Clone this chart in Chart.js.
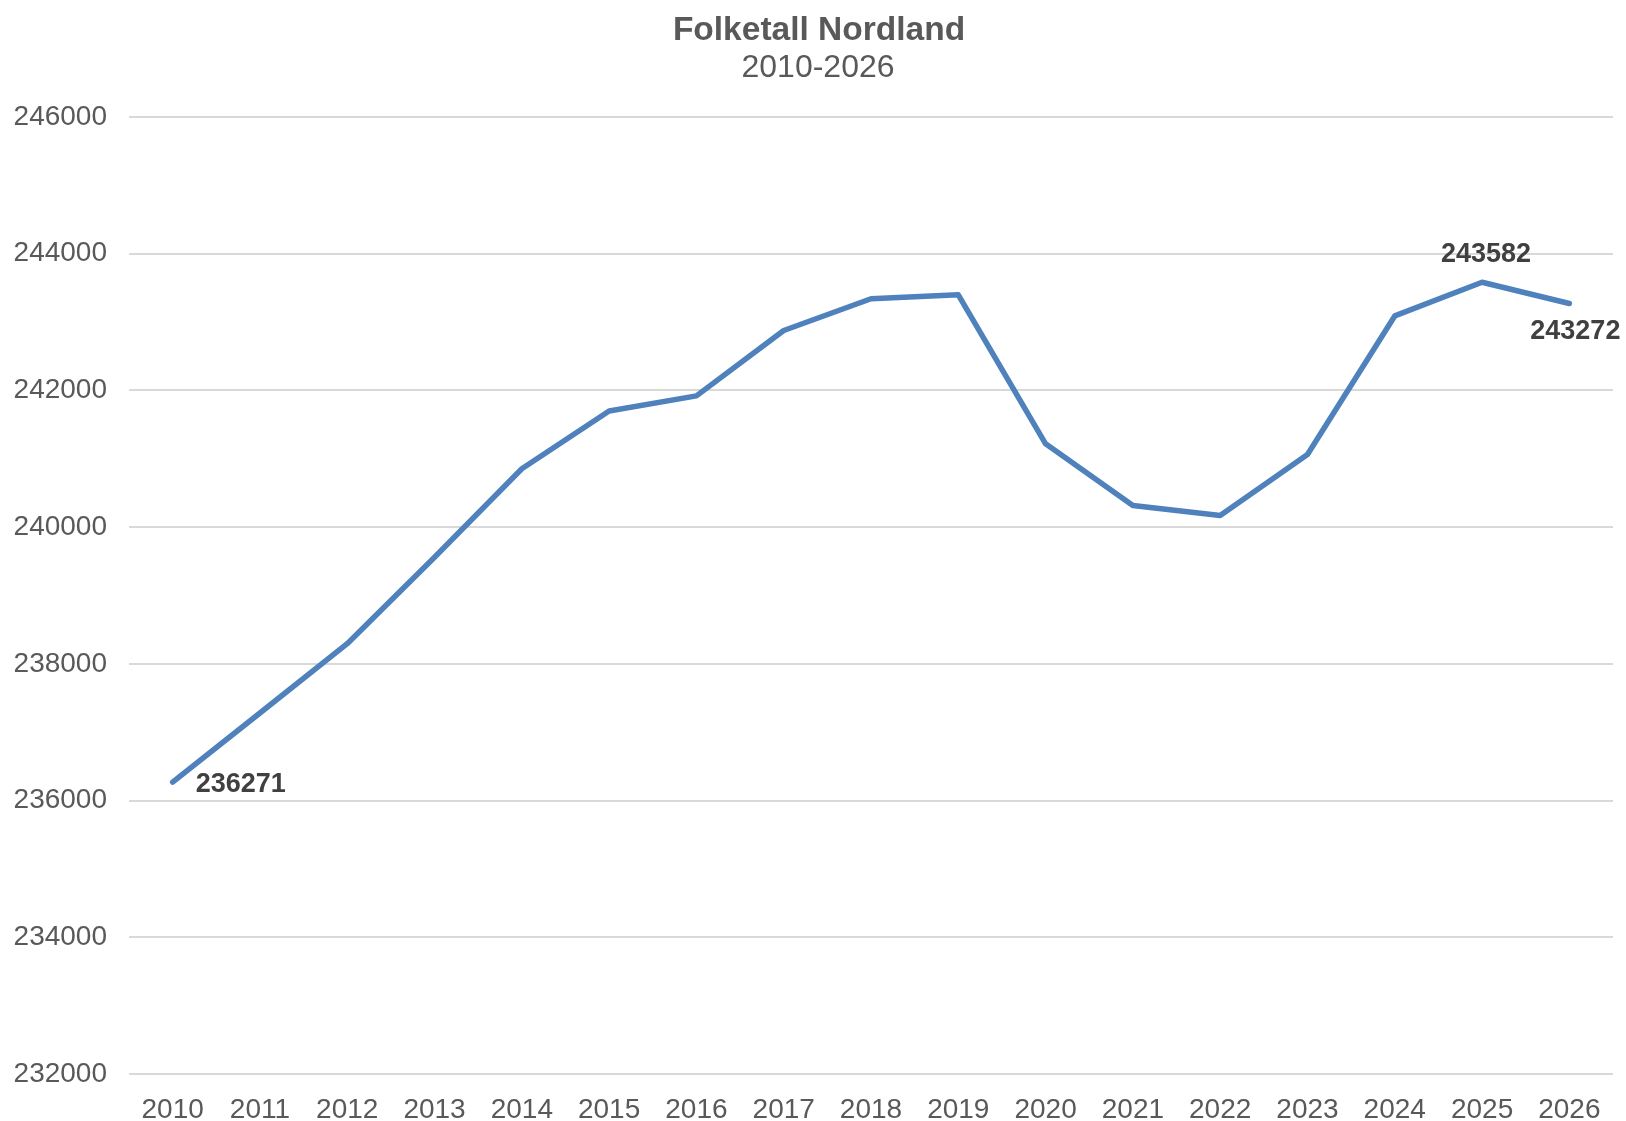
<!DOCTYPE html>
<html>
<head>
<meta charset="utf-8">
<title>Folketall Nordland</title>
<script src="https://cdn.jsdelivr.net/npm/chart.js@4"></script>
<style>
  html, body { margin: 0; padding: 0; background: #fff; }
  #chart { display: block; }
</style>
</head>
<body>
<canvas id="chart" width="1626" height="1121"></canvas>
<script>
// Data
const aar = ['2010', '2011', '2012', '2013', '2014', '2015', '2016', '2017', '2018',
  '2019', '2020', '2021', '2022', '2023', '2024', '2025', '2026'];
const folketall = [236271, 237281, 238295, 239560, 240854, 241699, 241920, 242877, 243341,
  243399, 241219, 240317, 240171, 241063, 243090, 243582, 243272];
const yTicks = [232000, 234000, 236000, 238000, 240000, 242000, 244000, 246000];
const tittel = 'Folketall Nordland';
const undertittel = '2010-2026';
// punkter som har dataetikett, og hvor den står
const etiketter = [
  { index: 0, plass: 'hoyre' },
  { index: 15, plass: 'over' },
  { index: 16, plass: 'under' }
];

const FONT = '"Liberation Sans", Arial, sans-serif';

// Tittel og undertittel (tegnes selv for å treffe midten som i Excel)
const tittelPlugin = {
  id: 'tittel',
  afterDraw(chart) {
    const ctx = chart.ctx;
    ctx.save();
    ctx.fillStyle = '#595959';
    ctx.textAlign = 'center';
    ctx.textBaseline = 'middle';
    ctx.font = 'bold 33.5px ' + FONT;
    ctx.fillText(tittel, 819, 31);
    ctx.font = '32px ' + FONT;
    ctx.fillText(undertittel, 818, 68);
    ctx.restore();
  }
};

// Tegner dataetikettene
const etikettPlugin = {
  id: 'etiketter',
  afterDatasetsDraw(chart) {
    const ctx = chart.ctx;
    const meta = chart.getDatasetMeta(0);
    ctx.save();
    ctx.font = 'bold 27px ' + FONT;
    ctx.fillStyle = '#404040';
    ctx.textBaseline = 'middle';
    etiketter.forEach(e => {
      const p = meta.data[e.index];
      const tekst = String(folketall[e.index]);
      if (e.plass === 'hoyre') {
        ctx.textAlign = 'left';
        ctx.fillText(tekst, p.x + 23, p.y + 3);
      } else if (e.plass === 'over') {
        ctx.textAlign = 'center';
        ctx.fillText(tekst, p.x + 4, p.y - 28);
      } else {
        ctx.textAlign = 'center';
        ctx.fillText(tekst, p.x + 6, p.y + 28);
      }
    });
    ctx.restore();
  }
};

new Chart(document.getElementById('chart'), {
  type: 'line',
  data: {
    labels: aar,
    datasets: [{
      label: 'Folketall',
      data: folketall,
      borderColor: '#4F81BD',
      backgroundColor: '#4F81BD',
      borderWidth: 5.5,
      borderCapStyle: 'round',
      borderJoinStyle: 'round',
      pointRadius: 0,
      tension: 0,
      fill: false
    }]
  },
  options: {
    responsive: false,
    animation: false,
    layout: {
      padding: { left: 0, right: 13, top: 117, bottom: 0 }
    },
    plugins: {
      legend: { display: false },
      tooltip: { enabled: false },
      title: { display: false },
      subtitle: { display: false }
    },
    scales: {
      x: {
        offset: true,
        grid: { display: false, drawTicks: false },
        border: { display: false },
        ticks: {
          color: '#595959',
          font: { family: FONT, size: 28 },
          padding: 19,
          maxRotation: 0,
          autoSkip: false
        },
        afterFit(scale) { scale.height = 47; }
      },
      y: {
        min: 232000,
        max: 246000,
        afterBuildTicks(scale) {
          scale.ticks = yTicks.map(v => ({ value: v }));
        },
        grid: { color: '#D9D9D9', lineWidth: 2, drawTicks: false },
        border: { display: false },
        ticks: {
          color: '#595959',
          font: { family: FONT, size: 28 },
          padding: 22,
          callback: v => String(v)
        },
        afterFit(scale) { scale.width = 129; }
      }
    }
  },
  plugins: [tittelPlugin, etikettPlugin]
});
</script>
</body>
</html>
